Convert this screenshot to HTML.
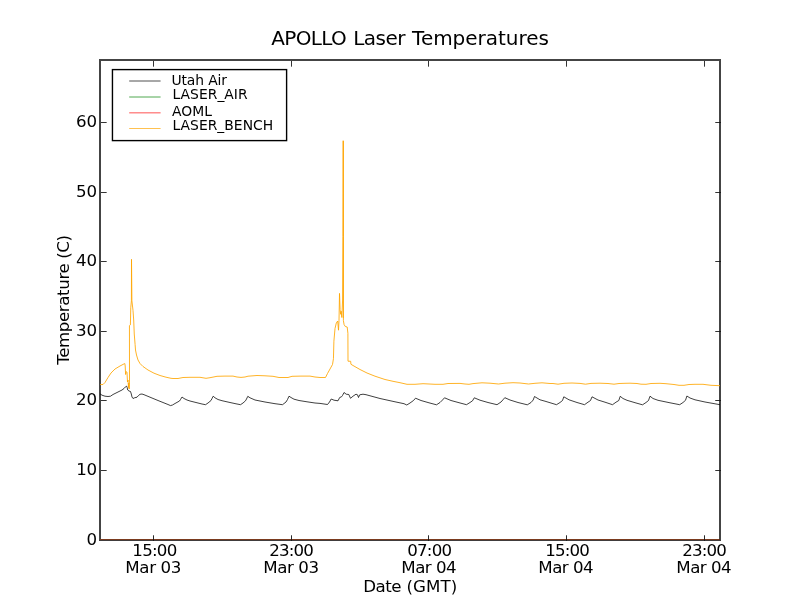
<!DOCTYPE html>
<html lang="en"><head><meta charset="utf-8"><title>APOLLO Laser Temperatures</title>
<style>html,body{margin:0;padding:0;background:#fff;overflow:hidden}svg{display:block}text{font-family:"DejaVu Sans","Liberation Sans",sans-serif;fill:#000}</style></head><body>
<svg width="800" height="600" viewBox="0 0 800 600">
<rect width="800" height="600" fill="#fff"/>
<g shape-rendering="crispEdges">
<rect x="99" y="59" width="2" height="482" fill="#444"/>
<rect x="719" y="59" width="2" height="482" fill="#444"/>
<rect x="99" y="59" width="622" height="2" fill="#444"/>
<rect x="99" y="539" width="622" height="1" fill="#444"/>
<rect x="100" y="539" width="619" height="1" fill="#7a3a1e"/>
<rect x="719" y="539" width="1" height="1" fill="#5a2a10"/>
<rect x="99" y="540" width="622" height="1" fill="#403c3c"/>
</g>
<clipPath id="ax"><rect x="99.4" y="59.4" width="621.2" height="480.6"/></clipPath>
<g clip-path="url(#ax)">
<path d="M100.00,393.80 L102.00,395.20 L105.00,396.20 L108.00,396.50 L110.50,396.20 L113.00,394.50 L118.00,392.00 L122.00,390.00 L124.00,388.50 L125.50,386.80 L126.70,386.20 L127.20,387.50 L127.70,390.00 L129.00,391.00 L130.50,391.50 L131.30,394.00 L132.00,397.00 L133.00,398.50 L134.50,397.80 L137.00,397.20 L138.50,395.50 L140.00,394.30 L142.00,394.00 L144.00,394.70 L158.00,400.50 L168.00,404.50 L170.50,405.60 L172.50,405.00 L175.00,403.50 L179.50,401.00 L180.50,399.50 L182.00,397.00 L184.00,398.50 L187.00,400.00 L190.00,401.00 L196.00,402.50 L202.00,404.00 L205.50,404.70 L208.00,403.00 L211.00,400.50 L212.00,398.50 L213.20,396.20 L215.00,397.80 L218.00,399.50 L222.00,400.70 L230.00,402.50 L236.00,403.80 L240.50,404.70 L243.00,403.00 L245.50,400.80 L246.50,399.00 L247.80,396.30 L250.00,397.80 L255.00,400.00 L265.00,402.00 L275.00,403.70 L282.50,404.70 L286.00,402.00 L287.50,399.50 L289.00,396.20 L291.00,397.50 L294.00,399.20 L299.00,400.50 L307.00,401.80 L315.00,403.00 L320.00,403.40 L327.50,404.50 L329.50,402.00 L331.20,399.00 L334.00,400.20 L338.00,400.80 L339.70,397.50 L341.50,396.80 L342.50,395.50 L344.00,392.50 L346.20,394.20 L348.80,394.50 L350.50,398.30 L353.00,396.20 L356.00,394.20 L357.50,394.80 L358.50,397.50 L359.70,394.80 L363.00,394.20 L366.00,394.70 L380.00,398.50 L395.00,401.80 L404.00,403.70 L406.80,405.00 L410.00,403.00 L413.50,400.50 L415.50,398.20 L421.00,400.50 L429.00,402.80 L436.50,404.80 L440.00,402.50 L442.50,400.00 L444.50,397.80 L451.00,400.50 L459.00,402.70 L466.50,404.70 L470.00,402.50 L472.50,400.80 L474.30,397.80 L480.00,400.20 L488.00,402.50 L497.00,404.70 L501.00,402.00 L503.50,399.20 L504.80,397.70 L510.00,400.00 L518.00,402.50 L527.30,404.80 L531.00,402.50 L533.20,400.00 L534.50,396.50 L540.00,399.80 L545.00,401.20 L556.50,404.70 L560.00,402.50 L562.50,400.50 L563.80,396.80 L569.00,399.80 L577.00,402.50 L584.50,404.70 L588.00,402.20 L590.50,400.50 L592.00,396.80 L598.00,400.00 L605.00,402.20 L612.50,404.70 L616.00,402.20 L618.80,400.50 L620.20,396.30 L623.00,398.50 L627.00,400.30 L635.00,402.70 L642.50,404.80 L646.00,402.50 L648.50,400.50 L650.00,396.20 L653.00,398.50 L658.00,400.30 L670.00,402.80 L679.70,404.70 L683.00,402.50 L685.50,400.30 L686.90,396.00 L690.00,398.00 L695.00,399.80 L705.00,402.00 L720.00,404.70" fill="none" stroke="#000" stroke-width="0.75" stroke-linejoin="round"/>
<path d="M100.00,384.60 L103.00,384.50 L105.00,382.50 L108.00,377.50 L111.00,373.00 L115.00,369.00 L120.00,366.00 L124.20,363.80 L124.80,363.50 L125.20,366.00 L125.60,374.50 L126.30,371.50 L127.00,372.50 L127.50,382.00 L128.00,380.00 L128.50,387.50 L128.80,383.00 L129.20,389.00 L129.50,380.00 L129.45,325.60 L130.40,324.90 L130.75,307.75 L131.40,300.75 L131.50,259.30 L131.90,300.75 L133.00,310.40 L133.70,320.00 L134.25,334.00 L135.10,344.50 L135.50,350.00 L136.50,355.00 L138.00,360.00 L140.00,363.50 L143.00,366.50 L148.00,370.00 L154.00,373.20 L160.00,375.50 L166.00,377.20 L171.00,378.30 L173.00,378.50 L178.00,378.50 L183.00,377.50 L190.00,377.30 L200.00,377.30 L203.00,377.80 L206.00,378.30 L210.00,377.70 L217.00,376.30 L225.00,376.10 L233.00,376.10 L237.00,377.00 L241.00,377.40 L245.00,377.00 L248.00,376.20 L257.00,375.50 L265.00,375.80 L273.00,376.30 L279.00,377.50 L288.00,377.50 L292.00,376.30 L301.00,376.10 L310.00,376.10 L315.00,377.00 L320.00,377.50 L325.50,377.50 L327.50,373.50 L330.00,369.00 L332.50,364.50 L333.45,358.70 L333.90,341.20 L335.00,328.60 L336.30,323.00 L337.70,321.00 L338.50,330.20 L339.00,320.70 L339.50,293.40 L340.10,309.60 L340.70,314.30 L341.20,311.20 L341.85,317.50 L342.60,300.00 L342.90,236.70 L343.20,140.70 L343.40,236.70 L343.40,320.70 L344.10,324.60 L345.30,326.50 L347.20,327.00 L347.90,333.30 L348.00,361.20 L350.70,361.30 L350.90,364.20 L353.00,365.50 L360.00,369.50 L367.00,373.00 L375.00,376.20 L385.00,379.50 L393.00,381.30 L400.00,382.70 L407.00,384.30 L415.00,384.30 L423.00,383.70 L435.00,384.30 L443.00,384.30 L448.00,383.50 L460.00,383.40 L465.00,384.00 L469.00,384.30 L473.00,383.60 L482.00,382.80 L490.00,383.20 L498.50,384.00 L505.00,383.20 L513.00,382.70 L520.00,383.00 L528.50,384.00 L535.00,383.30 L542.00,382.80 L550.00,383.50 L553.00,383.50 L558.00,384.20 L564.00,383.30 L572.00,383.00 L580.00,383.40 L585.50,384.20 L591.00,383.40 L600.00,383.20 L608.00,383.50 L614.00,384.20 L619.00,383.50 L625.00,383.30 L630.00,383.20 L637.00,383.50 L641.00,384.20 L646.00,384.30 L651.00,383.50 L660.00,383.30 L666.00,383.70 L674.00,384.50 L679.00,385.30 L684.00,385.30 L689.00,384.50 L695.00,384.30 L703.00,384.30 L711.00,385.30 L720.00,385.70" fill="none" stroke="#ffa500" stroke-width="0.85" stroke-linejoin="round"/>
<path d="M343.45,141 L343.45,318" fill="none" stroke="#ffa500" stroke-width="0.6"/>
</g>
<g shape-rendering="crispEdges">
<rect x="153" y="535" width="1" height="1" fill="#666"/>
<rect x="153" y="536" width="1" height="3" fill="#2a2a2a"/>
<rect x="153" y="539" width="1" height="2" fill="#1a1a1a"/>
<rect x="153" y="61" width="1" height="5" fill="#333"/>
<rect x="153" y="66" width="1" height="1" fill="#777"/>
<rect x="291" y="535" width="1" height="1" fill="#666"/>
<rect x="291" y="536" width="1" height="3" fill="#2a2a2a"/>
<rect x="291" y="539" width="1" height="2" fill="#1a1a1a"/>
<rect x="291" y="61" width="1" height="5" fill="#333"/>
<rect x="291" y="66" width="1" height="1" fill="#777"/>
<rect x="428" y="535" width="1" height="1" fill="#666"/>
<rect x="428" y="536" width="1" height="3" fill="#2a2a2a"/>
<rect x="428" y="539" width="1" height="2" fill="#1a1a1a"/>
<rect x="428" y="61" width="1" height="5" fill="#333"/>
<rect x="428" y="66" width="1" height="1" fill="#777"/>
<rect x="566" y="535" width="1" height="1" fill="#666"/>
<rect x="566" y="536" width="1" height="3" fill="#2a2a2a"/>
<rect x="566" y="539" width="1" height="2" fill="#1a1a1a"/>
<rect x="566" y="61" width="1" height="5" fill="#333"/>
<rect x="566" y="66" width="1" height="1" fill="#777"/>
<rect x="704" y="535" width="1" height="1" fill="#666"/>
<rect x="704" y="536" width="1" height="3" fill="#2a2a2a"/>
<rect x="704" y="539" width="1" height="2" fill="#1a1a1a"/>
<rect x="704" y="61" width="1" height="5" fill="#333"/>
<rect x="704" y="66" width="1" height="1" fill="#777"/>
<rect x="101" y="470" width="5" height="1" fill="#333"/>
<rect x="106" y="470" width="1" height="1" fill="#777"/>
<rect x="719" y="470" width="2" height="1" fill="#1a1a1a"/>
<rect x="716" y="470" width="3" height="1" fill="#333"/>
<rect x="715" y="470" width="1" height="1" fill="#666"/>
<rect x="101" y="400" width="5" height="1" fill="#333"/>
<rect x="106" y="400" width="1" height="1" fill="#777"/>
<rect x="719" y="400" width="2" height="1" fill="#1a1a1a"/>
<rect x="716" y="400" width="3" height="1" fill="#333"/>
<rect x="715" y="400" width="1" height="1" fill="#666"/>
<rect x="101" y="331" width="5" height="1" fill="#333"/>
<rect x="106" y="331" width="1" height="1" fill="#777"/>
<rect x="719" y="331" width="2" height="1" fill="#1a1a1a"/>
<rect x="716" y="331" width="3" height="1" fill="#333"/>
<rect x="715" y="331" width="1" height="1" fill="#666"/>
<rect x="101" y="261" width="5" height="1" fill="#333"/>
<rect x="106" y="261" width="1" height="1" fill="#777"/>
<rect x="719" y="261" width="2" height="1" fill="#1a1a1a"/>
<rect x="716" y="261" width="3" height="1" fill="#333"/>
<rect x="715" y="261" width="1" height="1" fill="#666"/>
<rect x="101" y="192" width="5" height="1" fill="#333"/>
<rect x="106" y="192" width="1" height="1" fill="#777"/>
<rect x="719" y="192" width="2" height="1" fill="#1a1a1a"/>
<rect x="716" y="192" width="3" height="1" fill="#333"/>
<rect x="715" y="192" width="1" height="1" fill="#666"/>
<rect x="101" y="122" width="5" height="1" fill="#333"/>
<rect x="106" y="122" width="1" height="1" fill="#777"/>
<rect x="719" y="122" width="2" height="1" fill="#1a1a1a"/>
<rect x="716" y="122" width="3" height="1" fill="#333"/>
<rect x="715" y="122" width="1" height="1" fill="#666"/>
</g>
<text transform="translate(69.30,364.80) rotate(-90)" font-size="16.67" letter-spacing="-0.400">Temperature (C)</text>
<text x="86.40" y="544.80" font-size="16.67" letter-spacing="0.000">0</text>
<text x="76.25" y="475.00" font-size="16.67" letter-spacing="-0.250">10</text>
<text x="76.05" y="405.00" font-size="16.67" letter-spacing="-0.150">20</text>
<text x="76.05" y="335.90" font-size="16.67" letter-spacing="-0.150">30</text>
<text x="76.05" y="265.90" font-size="16.67" letter-spacing="-0.150">40</text>
<text x="76.05" y="196.90" font-size="16.67" letter-spacing="-0.150">50</text>
<text x="76.05" y="126.80" font-size="16.67" letter-spacing="-0.150">60</text>
<text x="132.35" y="555.75" font-size="16.67" letter-spacing="-0.775">15:00</text>
<text x="125.35" y="572.70" font-size="16.67" letter-spacing="-0.370">Mar 03</text>
<text x="269.15" y="555.75" font-size="16.67" letter-spacing="-0.800">23:00</text>
<text x="263.35" y="572.70" font-size="16.67" letter-spacing="-0.430">Mar 03</text>
<text x="407.35" y="555.75" font-size="16.67" letter-spacing="-0.838">07:00</text>
<text x="401.35" y="572.70" font-size="16.67" letter-spacing="-0.530">Mar 04</text>
<text x="545.35" y="555.75" font-size="16.67" letter-spacing="-0.850">15:00</text>
<text x="538.35" y="572.70" font-size="16.67" letter-spacing="-0.530">Mar 04</text>
<text x="682.15" y="555.75" font-size="16.67" letter-spacing="-0.850">23:00</text>
<text x="676.35" y="572.70" font-size="16.67" letter-spacing="-0.530">Mar 04</text>
<text x="171.40" y="84.70" font-size="13.89" letter-spacing="-0.107">Utah Air</text>
<text x="172.50" y="98.75" font-size="13.89" letter-spacing="0.025">LASER_AIR</text>
<text x="171.95" y="115.70" font-size="13.89" letter-spacing="0.033">AOML</text>
<text x="172.50" y="129.60" font-size="13.89" letter-spacing="0.020">LASER_BENCH</text>
<text y="45.4" font-size="20"><tspan x="271.25" letter-spacing="-0.640">APOLLO</tspan> <tspan x="353.20" letter-spacing="-0.513">Laser</tspan> <tspan x="412.10" letter-spacing="-0.027">Temperatures</tspan></text>
<text y="591.75" font-size="16.67"><tspan x="363.15" letter-spacing="-0.483">Date</tspan> <tspan x="406.50" letter-spacing="0.100">(GMT)</tspan></text>
<rect x="112.45" y="69.6" width="174.15" height="71" fill="none" stroke="#000" stroke-width="1.39"/>
<line x1="129.2" y1="81.0" x2="160.6" y2="81.0" stroke="#000" stroke-width="0.69"/>
<line x1="129.2" y1="97.0" x2="160.6" y2="97.0" stroke="#008000" stroke-width="0.69"/>
<line x1="129.2" y1="112.85" x2="160.6" y2="112.85" stroke="#ff0000" stroke-width="0.69"/>
<line x1="129.2" y1="128.5" x2="160.6" y2="128.5" stroke="#ffa500" stroke-width="0.69"/>
</svg></body></html>
